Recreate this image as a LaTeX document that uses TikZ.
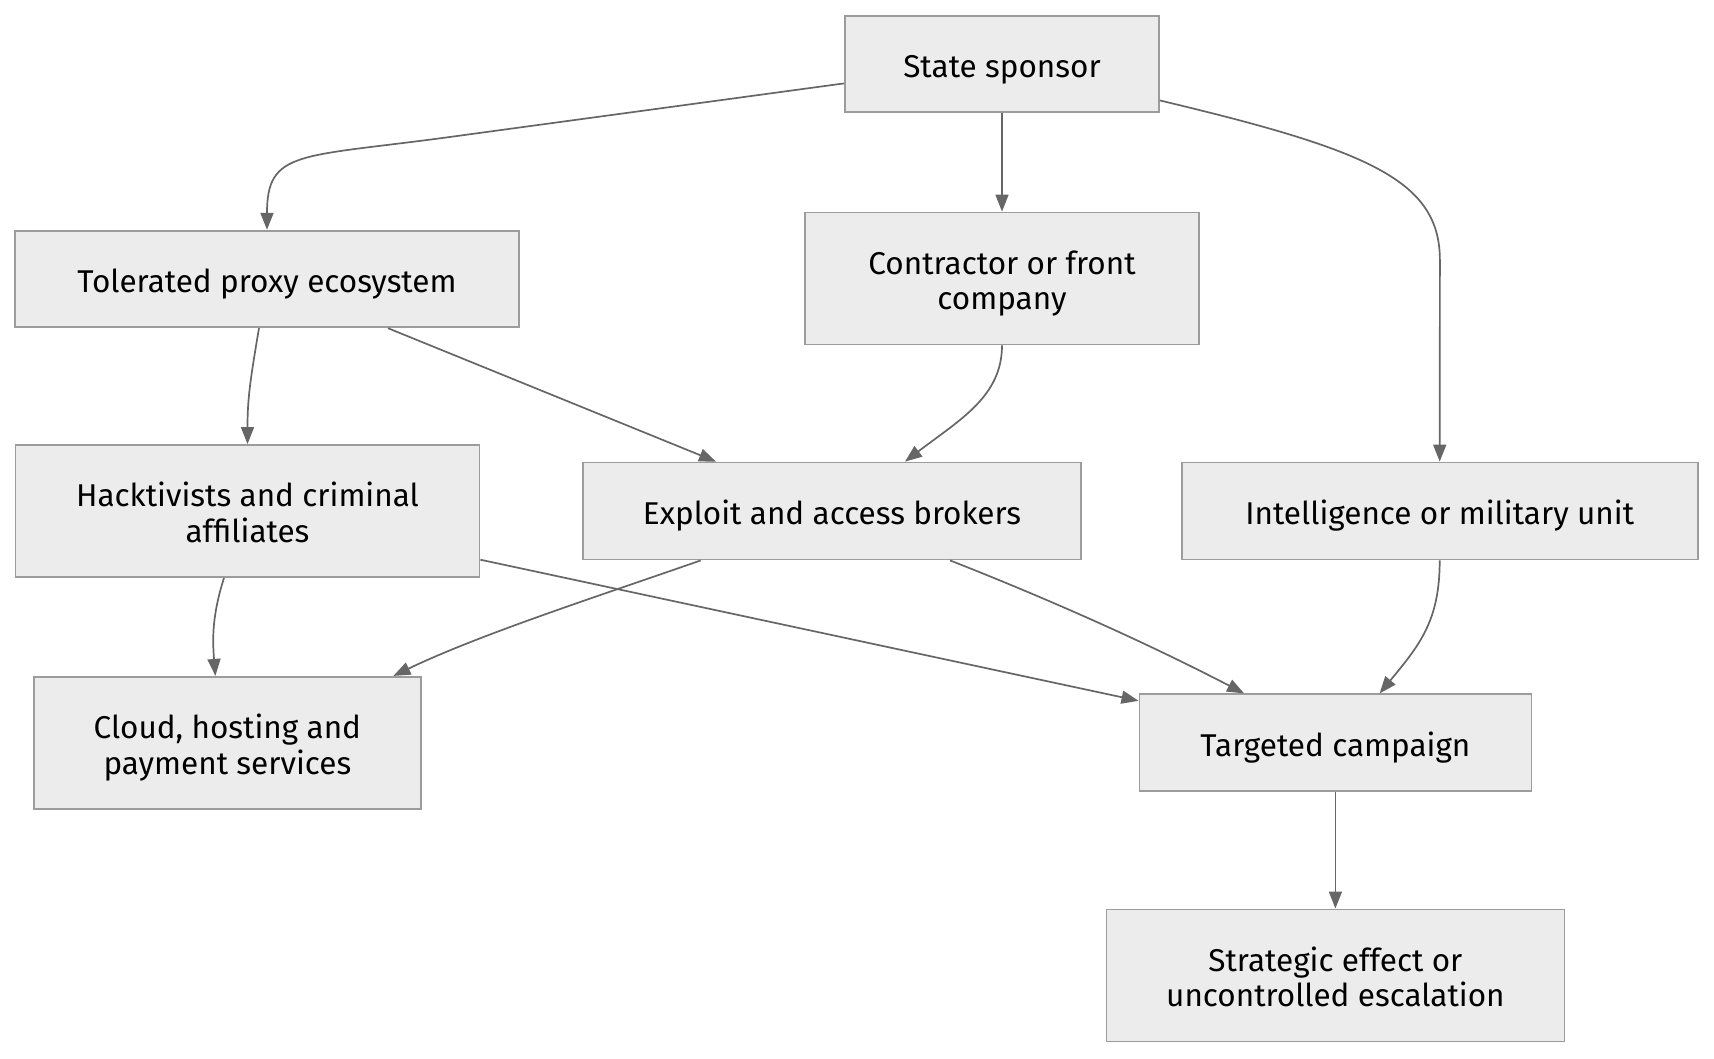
\documentclass[tikz,border=0pt]{standalone}
\usepackage{fontspec}
\setmainfont{Fira Sans}
\usepackage{tikz}
\usetikzlibrary{arrows.meta}
\definecolor{boxfill}{HTML}{ECECEC}
\definecolor{boxline}{HTML}{9C9C9C}
\definecolor{edgeline}{HTML}{666666}
\newcommand{\lbl}[1]{\raisebox{-6.6pt}[\height][\depth]{\begin{tabular}{@{}c@{}}#1\end{tabular}}}

\begin{document}
\begin{tikzpicture}[x=1pt,y=-1pt,->,>={Triangle[length=17pt,width=13pt]},
                    line width=1.7pt,draw=edgeline]
  \tikzstyle{box}=[draw=boxline,fill=boxfill,line width=1.8pt,inner sep=0pt,
                   text=black,font=\fontsize{31.5}{35.5}\selectfont]
  \useasboundingbox (0,0) rectangle (1714,1058);

  \node[box,minimum width=314pt,minimum height=96pt]   (S) at (1002,64)    {\lbl{State sponsor}};
  \node[box,minimum width=504pt,minimum height=96.6pt] (P) at (267,279)    {\lbl{Tolerated proxy ecosystem}};
  \node[box,minimum width=394pt,minimum height=132pt]  (F) at (1002,278.5) {\lbl{Contractor or front\\company}};
  \node[box,minimum width=464pt,minimum height=132pt]  (H) at (247.5,511)  {\lbl{Hacktivists and criminal\\affiliates}};
  \node[box,minimum width=498pt,minimum height=97pt]   (B) at (832,511)    {\lbl{Exploit and access brokers}};
  \node[box,minimum width=516pt,minimum height=97pt]   (I) at (1439.7,511) {\lbl{Intelligence or military unit}};
  \node[box,minimum width=387pt,minimum height=132pt]  (C) at (227.4,742.8) {\lbl{Cloud, hosting and\\payment services}};
  \node[box,minimum width=392pt,minimum height=97pt]   (T) at (1335.4,742.8) {\lbl{Targeted campaign}};
  \node[box,minimum width=458pt,minimum height=132pt]  (E) at (1335.4,975.4) {\lbl{Strategic effect or\\uncontrolled escalation}};

  \draw (S.187.6) -- ++(-395,53.7) .. controls +(-150,20.4) and +(0,-80) .. (P.north);
  \draw (S.south) -- (F.north);
  \draw (S.347.3) .. controls +(210,50) and +(0,-80) .. ++(280,160) -- (I.north);

  \draw ([xshift=-8pt]P.south) .. controls +(-9,53) and +(0,-45) .. (H.north);
  \draw ([xshift=121pt]P.south) -- ([xshift=-116pt]B.north);
  \draw (F.south) .. controls +(0,51) and +(55,-42) .. ([xshift=73pt]B.north);

  \draw ([xshift=-23.5pt]H.south) .. controls +(-12,38) and +(-3,-37) .. ([xshift=-12pt]C.north);
  \draw ([yshift=-48.7pt]H.east) -- ([yshift=42pt]T.west);
  \draw ([xshift=-131.3pt]B.south) .. controls +(-100,35) and +(86.5,-41.6) .. ([xshift=166pt]C.north);
  \draw ([xshift=118pt]B.south) .. controls +(90,35.3) and +(-104,-54) .. ([xshift=-91.3pt]T.north);
  \draw (I.south) .. controls +(0,60) and +(40.5,-49) .. ([xshift=44.2pt]T.north);

  \draw (T.south) -- (E.north);
\end{tikzpicture}
\end{document}
